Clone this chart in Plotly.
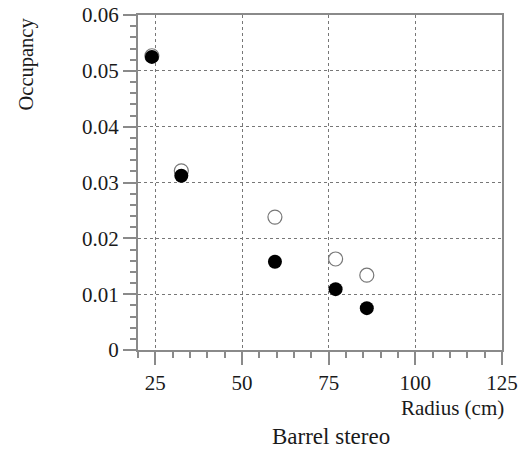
import plotly.graph_objects as go

radius = [24, 32.5, 59.5, 77, 86]
occ_open = [0.0527, 0.0321, 0.0238, 0.0163, 0.0134]
occ_filled = [0.0525, 0.0312, 0.0158, 0.0109, 0.0075]

x_ticks = [25, 50, 75, 100, 125]
y_ticks = [0, 0.01, 0.02, 0.03, 0.04, 0.05, 0.06]
y_tick_text = ["0", "0.01", "0.02", "0.03", "0.04", "0.05", "0.06"]

FONT = "Liberation Serif, Times New Roman, serif"
AX = "#8a8a8a"
TXT = "#1a1a1a"

fig = go.Figure()
fig.add_trace(go.Scatter(x=radius, y=occ_open, mode="markers",
                         marker=dict(symbol="circle", size=14, color="white",
                                     line=dict(color="#777777", width=1.2)),
                         showlegend=False, cliponaxis=False))
fig.add_trace(go.Scatter(x=radius, y=occ_filled, mode="markers",
                         marker=dict(symbol="circle", size=14, color="black",
                                     line=dict(color="black", width=0)),
                         showlegend=False, cliponaxis=False))

fig.update_layout(
    width=521, height=451,
    margin=dict(l=138, r=19, t=15, b=101, autoexpand=False),
    paper_bgcolor="white", plot_bgcolor="white",
    font=dict(family=FONT, size=21, color=TXT),
    xaxis=dict(range=[20, 125], tickvals=x_ticks, ticks="outside", ticklen=13,
               tickwidth=1.5, tickcolor=AX, showline=True, linecolor=AX, linewidth=2,
               mirror=True, showgrid=True, gridcolor="#777777", griddash="dot",
               gridwidth=1, zeroline=False, automargin=False,
               minor=dict(dtick=5, ticks="outside", ticklen=6, tickcolor=AX, showgrid=False),
               tickfont=dict(size=21, family=FONT, color=TXT)),
    yaxis=dict(range=[0, 0.06], tickvals=y_ticks, ticktext=y_tick_text, ticks="outside",
               ticklen=13, tickwidth=1.5, tickcolor=AX, showline=True, linecolor=AX,
               linewidth=2, mirror=True, showgrid=True, gridcolor="#777777",
               griddash="dot", gridwidth=1, zeroline=False, automargin=False,
               minor=dict(dtick=0.002, ticks="outside", ticklen=6, tickcolor=AX, showgrid=False),
               tickfont=dict(size=21, family=FONT, color=TXT)),
    annotations=[
        dict(text="Occupancy", xref="paper", yref="paper", x=-0.305, y=1.0,
             xanchor="center", yanchor="top", textangle=-90, showarrow=False,
             font=dict(size=20.5, family=FONT, color=TXT)),
        dict(text="Radius (cm)", xref="paper", yref="paper", x=1.01, y=-0.132,
             xanchor="right", yanchor="top", showarrow=False,
             font=dict(size=21, family=FONT, color=TXT)),
        dict(text="Barrel stereo", xref="paper", yref="paper", x=0.53, y=-0.257,
             xanchor="center", yanchor="middle", showarrow=False,
             font=dict(size=23, family=FONT, color=TXT)),
    ],
)

fig.write_html("out.html", config={"displayModeBar": False},
               post_script="document.body.style.margin='0';")
